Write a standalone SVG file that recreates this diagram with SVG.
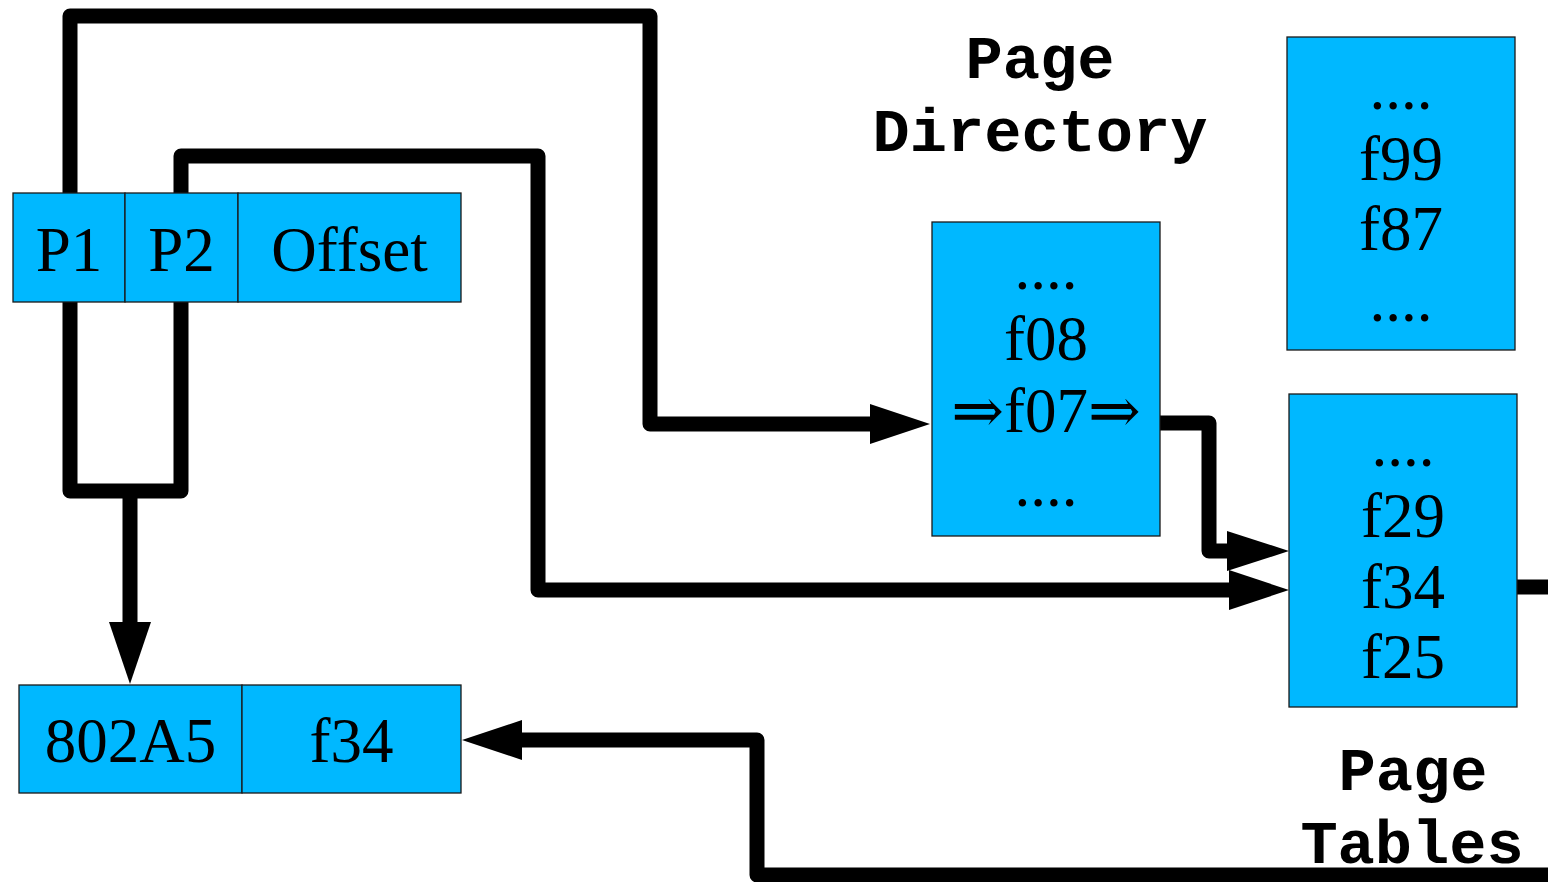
<svg xmlns="http://www.w3.org/2000/svg" width="1548" height="882" viewBox="0 0 1548 882">
<style>
.box{fill:#00b8ff;stroke:#1a1a1a;stroke-width:1.3}
.t{font-family:"Liberation Serif","DejaVu Serif",serif;font-size:63px;fill:#000;text-anchor:middle}
.lbl{font-family:"Liberation Mono","DejaVu Sans Mono",monospace;font-weight:bold;font-size:62px;fill:#000;text-anchor:middle}
.ln{fill:none;stroke:#000;stroke-width:15;stroke-linejoin:round;stroke-linecap:butt}
.ah{fill:#000}
</style>
<rect width="1548" height="882" fill="#fff"/>
<g id="connectors">
<path class="ln" d="M70 193 V16 H650 V424 H872"/>
<polygon class="ah" points="930,424 870,404 870,444"/>
<path class="ln" d="M181 193 V156 H538 V590 H1232"/>
<polygon class="ah" points="1289,590 1229,570 1229,610"/>
<path class="ln" d="M70 302 V491 H181 V302"/>
<path class="ln" d="M130 491 V625"/>
<polygon class="ah" points="130,684 109,622 151,622"/>
<path class="ln" d="M1160 423 H1209 V551 H1230"/>
<polygon class="ah" points="1289,551 1227,531 1227,571"/>
<path class="ln" d="M1517 587 H1548"/>
<path class="ln" d="M1548 875 H757 V740 H520"/>
<polygon class="ah" points="462,740 522,720 522,760"/>
</g>
<g id="address">
<rect class="box" x="13" y="193" width="112" height="109"/>
<rect class="box" x="125" y="193" width="113" height="109"/>
<rect class="box" x="238" y="193" width="223" height="109"/>
<text class="t" x="69" y="271">P1</text>
<text class="t" x="181.5" y="271">P2</text>
<text class="t" x="349.5" y="271">Offset</text>
</g>
<g id="result">
<rect class="box" x="19" y="685" width="223" height="108"/>
<rect class="box" x="242" y="685" width="219" height="108"/>
<text class="t" x="130.5" y="762">802A5</text>
<text class="t" x="351.5" y="762">f34</text>
</g>
<g id="page-directory">
<rect class="box" x="932" y="222" width="228" height="314"/>
<text class="t" x="1046" y="289">....</text>
<text class="t" x="1046" y="360">f08</text>
<text class="t" x="1046" y="432">⇒f07⇒</text>
<text class="t" x="1046" y="506">....</text>
</g>
<g id="page-table-1">
<rect class="box" x="1287" y="37" width="228" height="313"/>
<text class="t" x="1401" y="109">....</text>
<text class="t" x="1401" y="180">f99</text>
<text class="t" x="1401" y="250">f87</text>
<text class="t" x="1401" y="321">....</text>
</g>
<g id="page-table-2">
<rect class="box" x="1289" y="394" width="228" height="313"/>
<text class="t" x="1403" y="466">....</text>
<text class="t" x="1403" y="537">f29</text>
<text class="t" x="1403" y="608">f34</text>
<text class="t" x="1403" y="678">f25</text>
</g>
<g id="labels">
<text class="lbl" x="1040" y="78">Page</text>
<text class="lbl" x="1040" y="151">Directory</text>
<text class="lbl" x="1413" y="790">Page</text>
<text class="lbl" x="1412" y="863">Tables</text>
</g>
</svg>
